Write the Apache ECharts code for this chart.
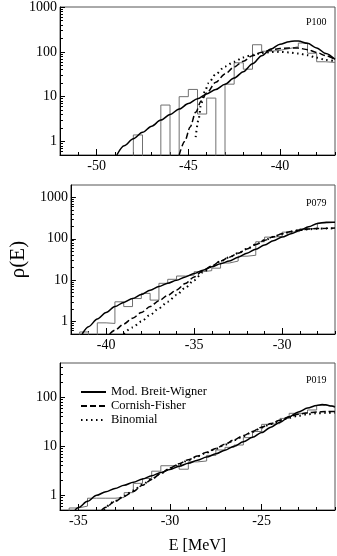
<!DOCTYPE html>
<html>
<head>
<meta charset="utf-8">
<script src="https://cdn.jsdelivr.net/npm/echarts@6/dist/echarts.min.js"></script>
<style>
html, body { margin: 0; padding: 0; background: #fff; }
#chart { width: 337px; height: 556px; }
</style>
</head>
<body>
<div id="chart"></div>
<script>
// histogram bins are 0.5 MeV wide, first bin starts at the panel's left edge
var binWidth = 0.5;

// ---- P100 ----
var p100Start = -52;
var p100Hist = [0, 0, 0, 0, 0, 0, 0, 0, 1.4, 0, 0, 6.5, 0, 10, 14.5, 4.1, 9.3, 0, 19, 57,
                41, 144, 103, 108, 118, 130, 157, 93, 60, 58];
var p100BW = [[-48.9, 0.5], [-48.5, 0.8], [-48, 1.15], [-47.5, 1.6], [-47, 2.2], [-46.5, 3.0], [-46, 4.0],
              [-45.5, 5.3], [-45, 7.0], [-44.5, 9.0], [-44, 11.5], [-43.5, 14.5], [-43, 19], [-42.5, 26],
              [-42, 36], [-41.5, 54], [-41, 82], [-40.5, 115], [-40, 147], [-39.5, 168], [-39.2, 175],
              [-39, 174], [-38.5, 155], [-38, 122], [-37.5, 92], [-37, 68]];
var p100CF = [[-45.5, 0.5], [-45.2, 1.0], [-44.9, 2.1], [-44.6, 4.5], [-44.3, 8], [-44, 12], [-43.5, 21],
              [-43, 32], [-42.5, 46], [-42, 62], [-41.5, 82], [-41, 98], [-40.5, 110], [-40, 118],
              [-39.5, 122], [-39, 121], [-38.5, 112], [-38, 97], [-37.5, 82], [-37, 68]];
var p100Bin = [[-44.6, 1.25], [-44.45, 3], [-44.3, 7], [-44.1, 13], [-43.9, 20], [-43.5, 32], [-43, 47],
               [-42.5, 60], [-42, 75], [-41.5, 86], [-41, 94], [-40.5, 99], [-40, 100], [-39.5, 97],
               [-39, 92], [-38.5, 84], [-38, 74], [-37.5, 66], [-37, 62]];

// ---- P079 ----
var p079Start = -42;
var p079Hist = [0, 0.56, 0, 0.93, 0.9, 3.0, 2.3, 3.6, 4.8, 3.3, 8.4, 10.5, 12.6, 13.3, 16, 17, 19.5,
                26, 29, 38, 40, 85, 110, 115, 145, 150, 175, 180, 240, 250];
var p079BW = [[-41.36, 0.5], [-41, 0.75], [-40.5, 1.15], [-40, 1.65], [-39.5, 2.3], [-39, 2.9], [-38.5, 3.6],
              [-38, 4.5], [-37.5, 5.7], [-37, 7], [-36.5, 8.4], [-36, 10], [-35.5, 12], [-35, 14.5],
              [-34.5, 17.5], [-34, 21], [-33.5, 25], [-33, 29], [-32.5, 36], [-32, 45], [-31.5, 56],
              [-31, 71], [-30.5, 90], [-30, 110], [-29.5, 132], [-29, 160], [-28.5, 195], [-28, 235],
              [-27.5, 252], [-27, 250]];
var p079CF = [[-39.8, 0.5], [-39.5, 0.62], [-39, 0.87], [-38.5, 1.2], [-38, 1.65], [-37.5, 2.3], [-37, 3.2],
              [-36.5, 4.3], [-36, 5.8], [-35.5, 8.3], [-35, 12], [-34.5, 17], [-34, 22], [-33.5, 29],
              [-33, 36], [-32.5, 45], [-32, 57], [-31.5, 73], [-31, 92], [-30.5, 112], [-30, 132],
              [-29.5, 150], [-29, 163], [-28.5, 172], [-28, 177], [-27.5, 180], [-27, 182]];
var p079Bin = [[-39, 0.5], [-38.5, 0.72], [-38, 1.0], [-37.5, 1.45], [-37, 2.1], [-36.5, 3.0], [-36, 4.4],
               [-35.5, 6.6], [-35, 10], [-34.5, 15.5], [-34, 21.5], [-33.5, 28.5], [-33, 36], [-32.5, 45],
               [-32, 57], [-31.5, 73], [-31, 92], [-30.5, 112], [-30, 132], [-29.5, 150], [-29, 163],
               [-28.5, 170], [-28, 175], [-27.5, 178], [-27, 180]];

// ---- P019 ----
var p019Start = -36;
var p019Hist = [0, 0.55, 0.6, 0.87, 0.87, 0.87, 0.9, 1.13, 1.75, 2.2, 3.1, 4.0, 4.0, 3.4, 4.8, 5.0, 6.5,
                8.4, 9.5, 10.6, 15, 20, 28, 29, 37, 47, 47, 55, 68, 66];
var p019BW = [[-35.18, 0.5], [-35, 0.56], [-34.5, 0.75], [-34, 1.0], [-33.5, 1.18], [-33, 1.38], [-32.5, 1.6],
              [-32, 1.85], [-31.5, 2.15], [-31, 2.5], [-30.5, 2.9], [-30, 3.35], [-29.5, 3.9], [-29, 4.5],
              [-28.5, 5.2], [-28, 6.0], [-27.5, 7.0], [-27, 8.3], [-26.5, 10], [-26, 12.3], [-25.5, 15.2],
              [-25, 19], [-24.5, 24.5], [-24, 31], [-23.5, 40], [-23, 50], [-22.5, 60], [-22, 68],
              [-21.7, 71], [-21.5, 70], [-21.2, 66], [-21, 63]];
var p019CF = [[-33.73, 0.5], [-33.5, 0.57], [-33, 0.75], [-32.5, 0.95], [-32, 1.2], [-31.5, 1.6], [-31, 2.1],
              [-30.5, 2.8], [-30, 3.6], [-29.5, 4.4], [-29, 5.3], [-28.5, 6.3], [-28, 7.5], [-27.5, 9],
              [-27, 11], [-26.5, 13.5], [-26, 16.5], [-25.5, 20], [-25, 24.5], [-24.5, 29], [-24, 34],
              [-23.5, 40], [-23, 45], [-22.5, 48], [-22, 50], [-21.5, 51], [-21, 51]];
var p019Bin = [[-33.6, 0.5], [-33, 0.76], [-32.5, 0.97], [-32, 1.25], [-31.5, 1.65], [-31, 2.15], [-30.5, 2.8],
               [-30, 3.5], [-29.5, 4.3], [-29, 5.2], [-28.5, 6.2], [-28, 7.4], [-27.5, 8.9], [-27, 10.8],
               [-26.5, 13.2], [-26, 16], [-25.5, 19.5], [-25, 24], [-24.5, 28.5], [-24, 33], [-23.5, 38],
               [-23, 42], [-22.5, 45], [-22, 47], [-21.5, 48], [-21, 48]];

// axis ranges and tick labels
var xRanges = [[-52, -37], [-42, -27], [-36, -21]];
var xTickLabels = [[-50, -45, -40], [-40, -35, -30], [-35, -30, -25]];
var yMin = 0.5;
var yMaxes = [1000, 2000, 500];
var yTickLabels = [1, 10, 100, 1000];
var panelNames = ['P100', 'P079', 'P019'];
var curveNames = ['Mod. Breit-Wigner', 'Cornish-Fisher', 'Binomial'];

var panels = [
    {start: p100Start, hist: p100Hist, curves: [p100BW, p100CF, p100Bin]},
    {start: p079Start, hist: p079Hist, curves: [p079BW, p079CF, p079Bin]},
    {start: p019Start, hist: p019Hist, curves: [p019BW, p019CF, p019Bin]}
];

var FONT = '"Liberation Serif", "DejaVu Serif", serif';
var EMPTY = 0.05; // empty bins sit below the log axis and get clipped

var chart = echarts.init(document.getElementById('chart'));

function histSteps(start, vals) {
    var pts = vals.map(function (v, i) {
        return [start + i * binWidth, v > 0 ? v : EMPTY];
    });
    var last = vals[vals.length - 1];
    pts.push([start + vals.length * binWidth, last > 0 ? last : EMPTY]);
    return pts;
}

function intTicks(r) {
    var out = [];
    for (var v = Math.ceil(r[0]); v <= r[1]; v++) out.push(v);
    return out;
}

function logMinorTicks(min, max) {
    var out = [];
    for (var e = -1; e <= 3; e++) {
        for (var m = 2; m <= 9; m++) {
            var v = +(m * Math.pow(10, e)).toPrecision(3);
            if (v > min && v < max) out.push(v);
        }
    }
    return out;
}

var grids = [
    {left: 60, top: 5, width: 275, height: 150},
    {left: 60, top: 185, width: 275, height: 149},
    {left: 60, top: 363, width: 275, height: 147}
];
grids.forEach(function (g) {
    g.show = true;
    g.borderColor = '#555';
    g.borderWidth = 1;
});

var xAxes = [], yAxes = [], series = [], titles = [];
var lineTypes = ['solid', [6, 3], [1.5, 3.5]];
var lineWidths = [1.5, 1.5, 2];
var titleTops = [17, 198, 375];

panels.forEach(function (p, i) {
    var yMax = yMaxes[i];
    // main x axis (major ticks + labels)
    xAxes.push({
        gridIndex: i, type: 'value', position: 'bottom',
        min: xRanges[i][0], max: xRanges[i][1],
        axisLine: {lineStyle: {color: '#000', width: 1}},
        axisTick: {inside: true, length: 6, customValues: xTickLabels[i], lineStyle: {color: '#000'}},
        axisLabel: {customValues: xTickLabels[i], color: '#000', fontSize: 14, fontFamily: FONT, margin: 4},
        splitLine: {show: false},
        name: i === 2 ? 'E [MeV]' : '',
        nameLocation: 'middle', nameGap: 28,
        nameTextStyle: {color: '#000', fontSize: 16, fontFamily: FONT}
    });
    // minor x ticks
    xAxes.push({
        gridIndex: i, type: 'value', position: 'bottom',
        min: xRanges[i][0], max: xRanges[i][1],
        axisLine: {show: false},
        axisTick: {inside: true, length: 3, customValues: intTicks(xRanges[i]), lineStyle: {color: '#000'}},
        axisLabel: {show: false},
        splitLine: {show: false}
    });
    var majors = yTickLabels.filter(function (v) { return v <= yMax; });
    yAxes.push({
        gridIndex: i, type: 'log', logBase: 10, position: 'left',
        min: yMin, max: yMax,
        axisLine: {show: true, lineStyle: {color: '#000', width: 1}},
        axisTick: {show: true, inside: true, length: 5, customValues: majors, lineStyle: {color: '#000'}},
        axisLabel: {
            customValues: majors, color: '#000', fontSize: 14, fontFamily: FONT, margin: 3,
            formatter: function (v) { return String(v); }
        },
        splitLine: {show: false},
        name: i === 1 ? 'ρ(E)' : '',
        nameLocation: 'middle', nameGap: 32,
        nameTextStyle: {color: '#000', fontSize: 21, fontFamily: FONT}
    });
    yAxes.push({
        gridIndex: i, type: 'log', logBase: 10, position: 'left',
        min: yMin, max: yMax,
        axisLine: {show: false},
        axisTick: {show: true, inside: true, length: 3, customValues: logMinorTicks(yMin, yMax), lineStyle: {color: '#000'}},
        axisLabel: {show: false},
        splitLine: {show: false}
    });

    series.push({
        type: 'line', name: 'hist' + i,
        xAxisIndex: 2 * i, yAxisIndex: 2 * i,
        data: histSteps(p.start, p.hist),
        step: 'end', symbol: 'none', clip: true, silent: true,
        lineStyle: {color: '#707070', width: 1}
    });
    p.curves.forEach(function (c, k) {
        series.push({
            type: 'line', name: curveNames[k],
            xAxisIndex: 2 * i, yAxisIndex: 2 * i,
            data: c, symbol: 'none', clip: true,
            smooth: 0.3, smoothMonotone: 'x',
            itemStyle: {color: '#000'},
            lineStyle: {color: '#000', width: lineWidths[k], type: lineTypes[k]}
        });
    });

    titles.push({
        text: panelNames[i], left: 306, top: titleTops[i], padding: 0,
        textStyle: {fontSize: 10, fontWeight: 'normal', color: '#000', fontFamily: FONT}
    });
});

var option = {
    animation: false,
    backgroundColor: '#fff',
    title: titles,
    legend: {
        data: curveNames,
        orient: 'vertical', left: 80, top: 385, padding: 0,
        itemWidth: 25, itemHeight: 10, itemGap: 0,
        selectedMode: false,
        itemStyle: {opacity: 0},
        textStyle: {color: '#000', fontSize: 12.5, lineHeight: 14, fontFamily: FONT}
    },
    grid: grids,
    xAxis: xAxes,
    yAxis: yAxes,
    series: series
};
chart.setOption(option);
</script>
</body>
</html>
